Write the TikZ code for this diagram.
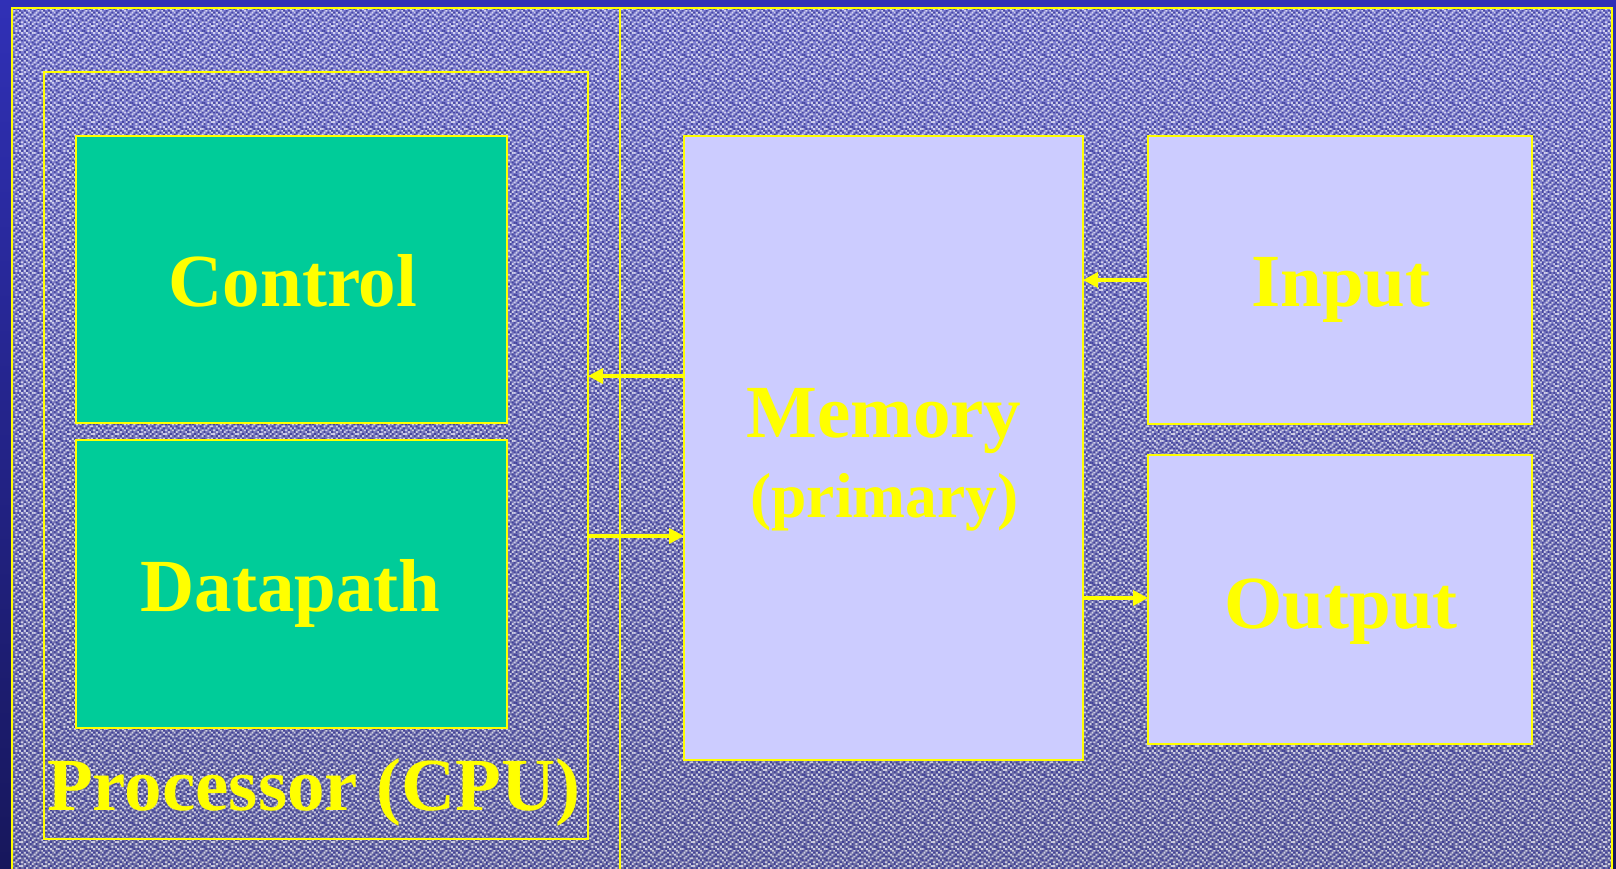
\documentclass[tikz,border=0pt]{standalone}
\usepackage{fontspec}
\setmainfont{Liberation Serif}
\usetikzlibrary{arrows.meta,patterns}

\definecolor{deepblue}{HTML}{3030B6}
\definecolor{nightblue}{HTML}{17175C}
\definecolor{grainhi}{HTML}{8080D2}
\definecolor{grainlo}{HTML}{6C6CA2}
\definecolor{grainink}{HTML}{24248A}
\definecolor{unitgreen}{HTML}{00CC99}
\definecolor{lavender}{HTML}{CCCCFF}
\definecolor{signal}{HTML}{FFFF00}

% small tiles of scattered pixels, used to give the panel its grain
\pgfdeclarepatternformonly{grainlight}{\pgfpointorigin}{\pgfpoint{24pt}{24pt}}{\pgfpoint{24pt}{24pt}}{%
  \foreach \px/\py in {2/0,10/0,16/0, 6/2,12/2,20/2,22/2, 0/4,8/4,18/4,
    4/6,10/6,14/6,22/6, 2/8,6/8,16/8, 0/10,12/10,18/10,20/10, 4/12,8/12,14/12,
    2/14,10/14,16/14,22/14, 0/16,6/16,12/16,20/16, 4/18,14/18,18/18,
    2/20,8/20,10/20,22/20, 0/22,6/22,16/22,20/22}{%
    \pgfpathrectangle{\pgfpoint{\px pt}{\py pt}}{\pgfpoint{2pt}{2pt}}\pgfusepath{fill}}}
\pgfdeclarepatternformonly{graindark}{\pgfpointorigin}{\pgfpoint{24pt}{24pt}}{\pgfpoint{24pt}{24pt}}{%
  \foreach \px/\py in {0/0,6/0,12/0,20/0, 2/2,8/2,16/2, 6/4,12/4,20/4,
    0/6,6/6,18/6, 4/8,10/8,14/8,20/8, 2/10,8/10,16/10, 0/12,10/12,18/12,22/12,
    6/14,14/14,20/14, 2/16,8/16,16/16,22/16, 0/18,10/18,20/18,
    6/20,14/20,18/20, 2/22,10/22,12/22,22/22}{%
    \pgfpathrectangle{\pgfpoint{\px pt}{\py pt}}{\pgfpoint{2pt}{2pt}}\pgfusepath{fill}}}

\tikzset{
  unit/.style={draw=signal, line width=2pt, inner sep=0pt, outer sep=0pt},
  cpubox/.style={unit, fill=unitgreen},
  membox/.style={unit, fill=lavender},
  lbl/.style={text=signal, inner sep=0pt, anchor=base,
    font=\bfseries\fontsize{75pt}{80pt}\selectfont},
  sublbl/.style={lbl, font=\bfseries\fontsize{63.5pt}{70pt}\selectfont},
  flow/.style={draw=signal, line width=3.5pt,
    -{Triangle[length=15pt,width=15pt]}},
}

\begin{document}
\begin{tikzpicture}[x=1pt, y=-1pt]
  \useasboundingbox (0,0) rectangle (1616,869);

  % page background
  \shade[top color=deepblue, bottom color=nightblue] (0,0) rectangle (1616,869);

  % grained panel
  \shade[top color=grainhi, bottom color=grainlo] (12,8) rectangle (1612,880);
  \fill[pattern=grainlight, pattern color=white, opacity=0.65] (12,8) rectangle (1612,880);
  \fill[pattern=graindark, pattern color=grainink, opacity=0.6] (12,8) rectangle (1612,880);
  \draw[signal, line width=2.2pt] (12,880) -- (12,8) -- (1612,8) -- (1612,880);

  % divider between the processor and the rest
  \coordinate (divtop) at (620,8);
  \coordinate (divbot) at (620,880);
  \draw[signal, line width=1.5pt] (divtop) -- (divbot);

  % processor
  \node[draw=signal, line width=1.5pt, inner sep=0pt, outer sep=0pt,
        minimum width=544pt, minimum height=767pt] (cpu) at (316,455.5) {};
  \node[cpubox, minimum width=431pt, minimum height=287pt] (ctrl) at (291.5,279.5) {};
  \node[cpubox, minimum width=431pt, minimum height=288pt] (dp) at (291.5,584) {};

  % memory and devices
  \node[membox, minimum width=399pt, minimum height=624pt] (mem) at (883.5,448) {};
  \node[membox, minimum width=384pt, minimum height=288pt] (in) at (1340,280) {};
  \node[membox, minimum width=384pt, minimum height=289pt] (out) at (1340,599.5) {};

  % connections
  \coordinate (rowA) at (0,376);
  \coordinate (rowB) at (0,536);
  \coordinate (rowC) at (0,280);
  \coordinate (rowD) at (0,598);
  \draw[flow] (mem.west |- rowA) -- (cpu.east |- rowA);
  \draw[flow] (cpu.east |- rowB) -- (mem.west |- rowB);
  \draw[flow] (in.west |- rowC) -- (mem.east |- rowC);
  \draw[flow] (mem.east |- rowD) -- (out.west |- rowD);

  % labels
  \node[lbl] (ctrltxt) at (293,306) {Control};
  \node[lbl] (dptxt) at (290.5,611) {Datapath};
  \node[lbl] (cputxt) at (314,810) {Processor (CPU)};
  \node[lbl] (memtxt) at (884,437) {Memory};
  \node[sublbl] (memsub) at (884.5,517) {(primary)};
  \node[lbl] (intxt) at (1341,306) {Input};
  \node[lbl] (outtxt) at (1341,628) {Output};
\end{tikzpicture}
\end{document}
